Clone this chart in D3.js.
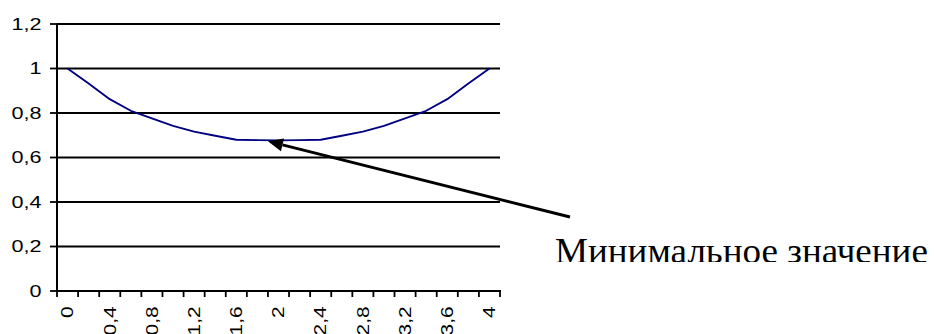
<!DOCTYPE html>
<html>
<head>
<meta charset="utf-8">
<script src="https://cdn.jsdelivr.net/npm/d3@7/dist/d3.min.js"></script>
<style>
  html, body { margin: 0; padding: 0; background: #fff; }
  svg { display: block; }
  .ann { font-family: "Liberation Serif", "Times New Roman", serif; }
</style>
</head>
<body>
<svg id="chart" width="934" height="334"></svg>
<script>
// ---- data ----
const categories = [0, 0.2, 0.4, 0.6, 0.8, 1.0, 1.2, 1.4, 1.6, 1.8, 2.0,
                    2.2, 2.4, 2.6, 2.8, 3.0, 3.2, 3.4, 3.6, 3.8, 4.0];
const values = [1.0, 0.933, 0.862, 0.81, 0.776, 0.742, 0.716, 0.698, 0.680, 0.678, 0.677,
                0.678, 0.680, 0.698, 0.716, 0.742, 0.776, 0.81, 0.862, 0.933, 1.0];
const yTicks = [0, 0.2, 0.4, 0.6, 0.8, 1.0, 1.2];
const xLabelEvery = 2;
const annotationText = "Минимальное значение";
const annotationIndex = 9; // arrow points between points 9 and 10

const fmt = v => String(+v.toFixed(1)).replace(".", ",");

// ---- layout ----
const svg = d3.select("#chart");
svg.append("rect").attr("width", 934).attr("height", 334).attr("fill", "#fff");

const x = d3.scaleBand().domain(categories).range([57, 500]).padding(0);
const y = d3.scaleLinear().domain([0, 1.2]).range([291, 24]);
const bw = x.bandwidth();
const cx = c => x(c) + bw / 2;

const labelFont = "'Liberation Sans', Arial, sans-serif";

// gridlines
svg.append("g").selectAll("line").data(yTicks.filter(t => t > 0)).join("line")
  .attr("x1", x.range()[0]).attr("x2", x.range()[1])
  .attr("y1", d => y(d)).attr("y2", d => y(d))
  .attr("stroke", "#000").attr("stroke-width", 1.8);

// y axis
const gy = svg.append("g");
gy.append("line").attr("x1", 57).attr("x2", 57).attr("y1", y(1.2)).attr("y2", y(0))
  .attr("stroke", "#000").attr("stroke-width", 2);
gy.selectAll("line.tk").data(yTicks).join("line").attr("class", "tk")
  .attr("x1", 50).attr("x2", 57).attr("y1", d => y(d)).attr("y2", d => y(d))
  .attr("stroke", "#000").attr("stroke-width", 1.8);
gy.selectAll("text").data(yTicks).join("text")
  .attr("transform", d => `translate(41.5,${y(d)}) scale(1.35,1)`)
  .attr("dy", "0.36em")
  .attr("text-anchor", "end")
  .attr("font-family", labelFont).attr("font-size", 16).attr("fill", "#000")
  .text(d => fmt(d));

// x axis
const gx = svg.append("g");
gx.append("line").attr("x1", x.range()[0] - 1).attr("x2", x.range()[1] + 1)
  .attr("y1", y(0)).attr("y2", y(0)).attr("stroke", "#000").attr("stroke-width", 2);
const tickPos = categories.map(c => x(c)).concat([x.range()[1]]);
gx.selectAll("line.tk").data(tickPos).join("line").attr("class", "tk")
  .attr("x1", d => d).attr("x2", d => d).attr("y1", y(0)).attr("y2", y(0) + 6)
  .attr("stroke", "#000").attr("stroke-width", 1.8);
gx.selectAll("text").data(categories.filter((c, i) => i % xLabelEvery === 0)).join("text")
  .attr("transform", d => `translate(${cx(d)},306.5) rotate(-90) scale(1.3,1)`)
  .attr("dy", "0.36em")
  .attr("text-anchor", "end")
  .attr("font-family", labelFont).attr("font-size", 16).attr("fill", "#000")
  .text(d => fmt(d));

// series line
const line = d3.line().x((d, i) => cx(categories[i])).y(d => y(d));
svg.append("path").datum(values).attr("d", line)
  .attr("fill", "none").attr("stroke", "#000080").attr("stroke-width", 1.9)
  .attr("stroke-linejoin", "round");

// annotation arrow
const tip = [
  (cx(categories[annotationIndex]) + cx(categories[annotationIndex + 1])) / 2,
  y((values[annotationIndex] + values[annotationIndex + 1]) / 2) + 1
];
const tail = [570, 217];
const ang = Math.atan2(tip[1] - tail[1], tip[0] - tail[0]);
const headLen = 15, headHalf = 6.5;
const bx = tip[0] - headLen * Math.cos(ang), by = tip[1] - headLen * Math.sin(ang);
svg.append("line").attr("x1", tail[0]).attr("y1", tail[1]).attr("x2", bx).attr("y2", by)
  .attr("stroke", "#000").attr("stroke-width", 3);
svg.append("path")
  .attr("d", `M${tip[0]},${tip[1]} L${bx + headHalf * Math.sin(ang)},${by - headHalf * Math.cos(ang)} L${bx - headHalf * Math.sin(ang)},${by + headHalf * Math.cos(ang)} Z`)
  .attr("fill", "#000");

// annotation text (bottom slightly clipped, as in the original)
svg.append("clipPath").attr("id", "txtclip").append("rect")
  .attr("x", 0).attr("y", 0).attr("width", 934).attr("height", 262);
const annG = svg.append("g").attr("clip-path", "url(#txtclip)");
const ann = annG.append("text").attr("class", "ann")
  .attr("font-size", 35).attr("fill", "#000")
  .text(annotationText);
// fit the text to the width it spans in the original
const targetW = 373;
const w = ann.node().getComputedTextLength();
ann.attr("transform", `translate(555,262.5) scale(${targetW / w},1)`);
</script>
</body>
</html>
